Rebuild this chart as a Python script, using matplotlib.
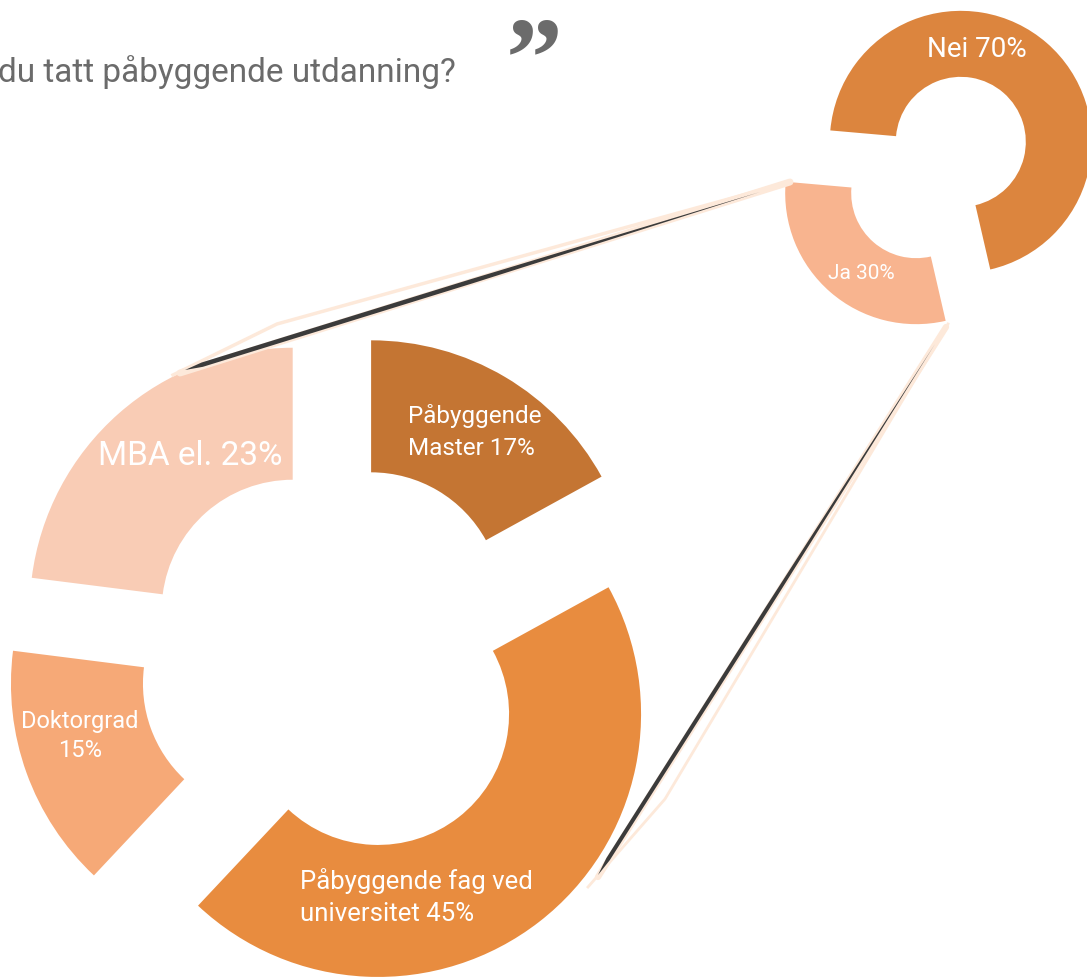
import numpy as np
import matplotlib.pyplot as plt

W, H = 1087, 978

# small donut: har du tatt påbyggende utdanning?
svar_labels = ["Nei 70%", "Ja 30%"]
svar_values = [70, 30]
svar_colors = ["#DC853E", "#F8B48F"]

# big donut: type utdanning (for those answering "Ja")
type_labels = ["Påbyggende\nMaster 17%", "MBA el. 23%", "Doktorgrad\n15%",
               "Påbyggende fag ved\nuniversitet 45%"]
type_values = [17, 23, 15, 45]
type_colors = ["#C47533", "#F9CCB5", "#F6A977", "#E88C3F"]

title = "du tatt påbyggende utdanning?"

plt.rcParams['font.family'] = ['Roboto', 'DejaVu Sans']

fig = plt.figure(figsize=(W / 100, H / 100), dpi=100)
ax = fig.add_axes([0, 0, 1, 1])


def py(y):
    # pixel row -> data y (y axis points up)
    return H - y


# big donut
R_big = 263
ax.pie(type_values, colors=type_colors, startangle=28.8, counterclock=True,
       center=(337, py(662)), radius=R_big, explode=[67] * 4,
       wedgeprops=dict(width=132, linewidth=0))

# small donut
R_small = 131
ax.pie(svar_values, colors=svar_colors, startangle=-77, counterclock=True,
       center=(938.5, py(168.5)), radius=R_small, explode=[34, 34],
       wedgeprops=dict(width=66, linewidth=0))

ax.set_xlim(0, W)
ax.set_ylim(0, H)
ax.set_aspect("equal")
ax.axis("off")


# connector lines from the "Ja" slice to the big donut
def taper(p0, p1, wmax, color):
    p0 = np.array([p0[0], py(p0[1])], float)
    p1 = np.array([p1[0], py(p1[1])], float)
    d = p1 - p0
    n = np.array([-d[1], d[0]]) / np.hypot(*d)
    ts = np.array([0, 0.5, 0.97, 1.0])
    ws = np.array([0.0, wmax, wmax, 0.0]) / 2
    top = [p0 + t * d + w * n for t, w in zip(ts, ws)]
    bot = [p0 + t * d - w * n for t, w in zip(ts, ws)][::-1]
    poly = np.array(top + bot)
    ax.fill(poly[:, 0], poly[:, 1], color=color, lw=0, zorder=4)


peach = "#FDE9DA"
ax.plot([790, 180], [py(183), py(374)], color=peach, lw=5, zorder=3,
        solid_capstyle="round")
ax.plot([790, 277, 173], [py(183), py(325), py(376)], color=peach, lw=2.5,
        zorder=3)
ax.plot([946, 598], [py(328), py(878)], color=peach, lw=4.5, zorder=3,
        solid_capstyle="round")
ax.plot([948, 665, 588], [py(325), py(800), py(888)], color=peach, lw=2,
        zorder=3)
taper((760, 193), (185, 371), 4.5, "#3B3B3B")
taper((935, 345), (598, 876), 4, "#3B3B3B")

# labels
tc = "white"
ax.text(977, py(50), svar_labels[0], color=tc, fontsize=20, ha="center",
        va="center", zorder=5)
ax.text(861, py(274), svar_labels[1], color=tc, fontsize=15, ha="center",
        va="center", zorder=5)
ax.text(408, py(432), type_labels[0], color=tc, fontsize=17.5, ha="left",
        va="center", linespacing=1.52, zorder=5)
ax.text(98, py(456), type_labels[1], color=tc, fontsize=24, ha="left",
        va="center", zorder=5)
ax.text(80, py(736), type_labels[2], color=tc, fontsize=17, ha="center",
        va="center", multialignment="center", linespacing=1.33, zorder=5)
ax.text(300, py(897), type_labels[3], color=tc, fontsize=18.5, ha="left",
        va="center", linespacing=1.4, zorder=5)

# title and quote mark
ax.text(-2, py(72), title, color="#6B6B6B", fontsize=24, ha="left",
        va="center")
ax.text(534, py(95), "\u201d", color="#6B6B6B", fontsize=82,
        family="Liberation Serif", fontweight="bold", ha="center",
        va="baseline")

fig.savefig("out.png", dpi=100)
